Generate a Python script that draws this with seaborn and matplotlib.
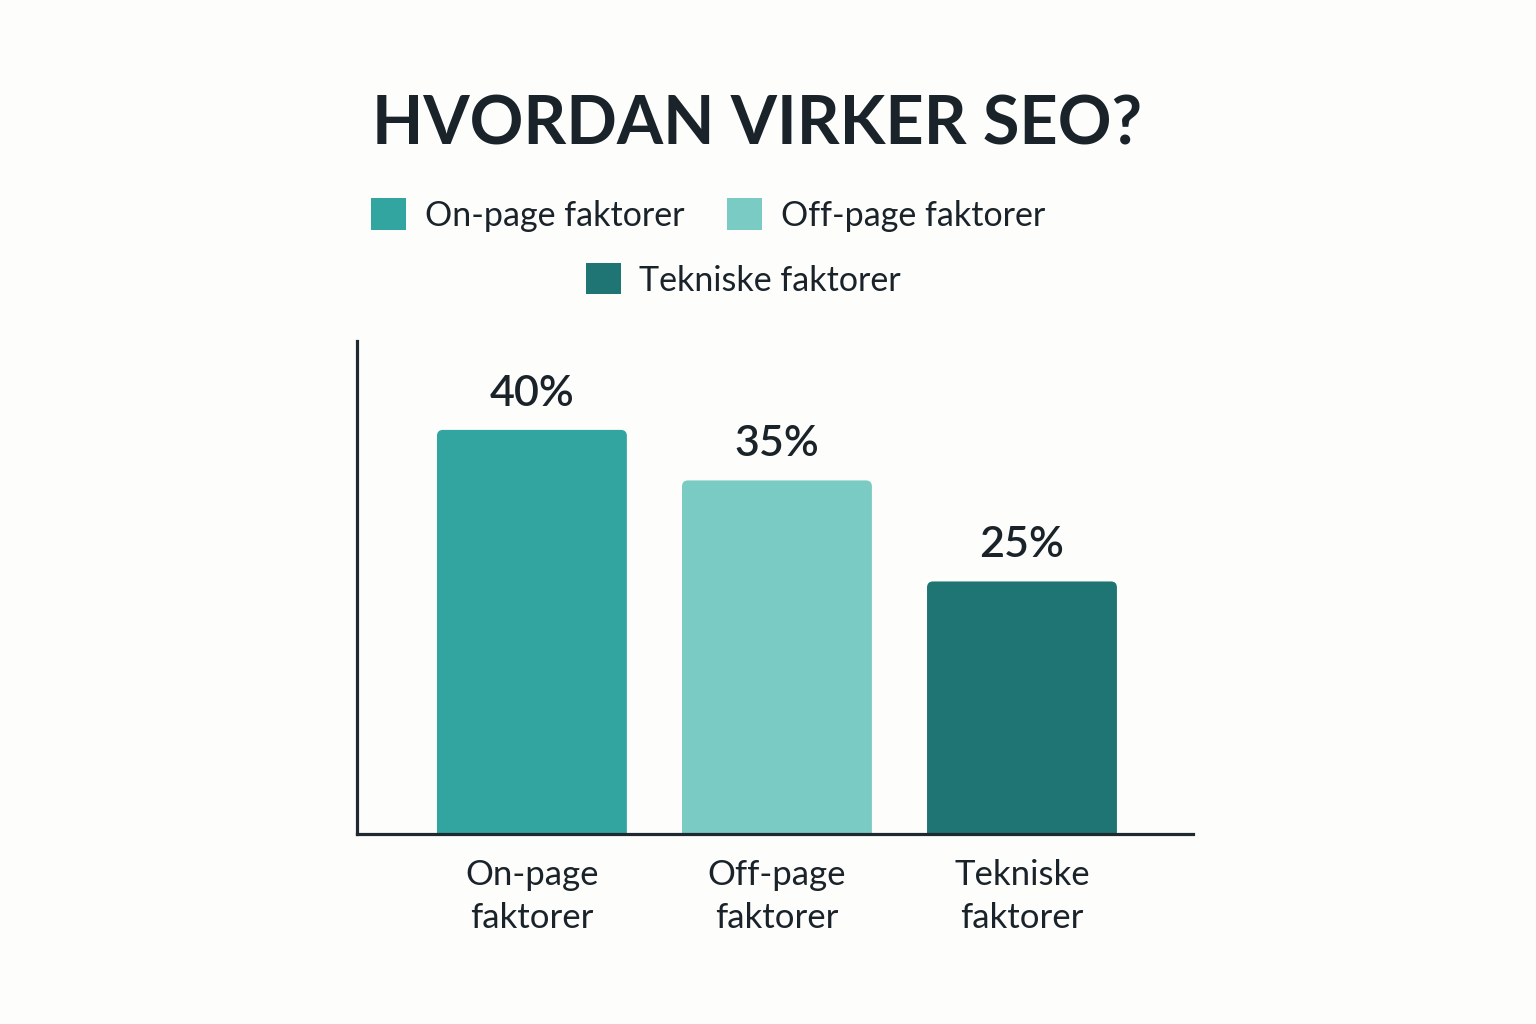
import matplotlib
matplotlib.use("Agg")
import matplotlib.pyplot as plt
import seaborn as sns
import pandas as pd
from matplotlib.patches import FancyBboxPatch, Patch

TITLE = "HVORDAN VIRKER SEO?"
CATEGORIES = ["On-page faktorer", "Off-page faktorer", "Tekniske faktorer"]
TICK_LABELS = ["On-page\nfaktorer", "Off-page\nfaktorer", "Tekniske\nfaktorer"]
SHARES = [40, 35, 25]
COLORS = ["#33A5A0", "#79CBC3", "#1F7474"]

TEXT_DARK = "#1A2329"
BG = "#FDFDFB"


def main():

    sns.set_theme(style="white")
    plt.rcParams["font.family"] = ["Lato", "DejaVu Sans"]

    df = pd.DataFrame({"kategori": CATEGORIES, "andel": SHARES})

    fig = plt.figure(figsize=(15.36, 10.24), dpi=100, facecolor=BG)
    ax = fig.add_axes([0.2324, 0.1855, 0.5443, 0.4815])
    ax.set_facecolor(BG)

    sns.barplot(data=df, x="kategori", y="andel", hue="kategori",
                palette=COLORS, width=0.775, legend=False, ax=ax)

    ax.set_xlim(-0.714, 2.698)
    ax.set_ylim(0, 48.8)

    # swap the square bars for ones with rounded tops
    x_per_px = (2.698 + 0.714) / (0.5443 * 1536)
    y_per_px = 48.8 / (0.4815 * 1024)
    for bar, color in zip(list(ax.patches), COLORS):
        x0, w, h = bar.get_x(), bar.get_width(), bar.get_height()
        bar.set_visible(False)
        rounded = FancyBboxPatch(
            (x0, -2), w, h + 2,
            boxstyle=f"round,pad=0,rounding_size={6 * x_per_px}",
            mutation_aspect=y_per_px / x_per_px,
            facecolor=color, edgecolor="none", zorder=2)
        ax.add_patch(rounded)
        ax.text(x0 + w / 2, h + 1.7, f"{h:.0f}%", ha="center", va="bottom",
                fontsize=31, fontweight="semibold", color=TEXT_DARK)

    sns.despine(ax=ax)
    for side in ["left", "bottom"]:
        ax.spines[side].set_color("#1F2A30")
        ax.spines[side].set_linewidth(2.3)
    ax.set_yticks([])
    ax.set_xticks(range(len(TICK_LABELS)))
    ax.set_xticklabels(TICK_LABELS, fontsize=25, color=TEXT_DARK,
                       linespacing=1.42)
    ax.tick_params(axis="x", length=0, pad=18)
    ax.set_xlabel("")
    ax.set_ylabel("")

    fig.text(0.493, 0.877, TITLE, ha="center", va="center",
             fontsize=48, fontweight="bold", color=TEXT_DARK)

    handles = [Patch(facecolor=c, edgecolor="none", label=l)
               for c, l in zip(COLORS, CATEGORIES)]
    legend_style = dict(frameon=False, fontsize=24.5, handlelength=1.03,
                        handleheight=1.03, handletextpad=0.55,
                        columnspacing=1.25, labelcolor=TEXT_DARK)
    fig.legend(handles=handles[:2], ncol=2, loc="center",
               bbox_to_anchor=(0.461, 0.790), **legend_style)
    fig.legend(handles=handles[2:], ncol=1, loc="center",
               bbox_to_anchor=(0.484, 0.7266), **legend_style)

    fig.savefig("out.png", dpi=100, facecolor=BG)


if __name__ == "__main__":
    main()
